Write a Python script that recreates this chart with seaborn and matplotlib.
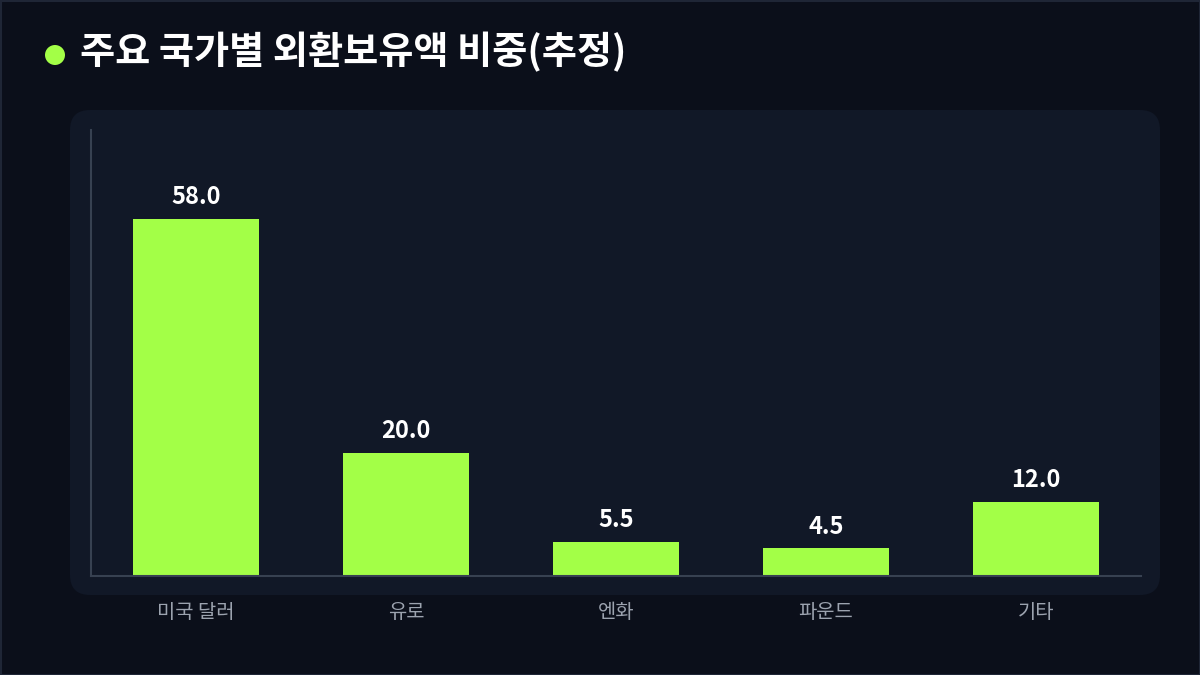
import matplotlib
matplotlib.use("Agg")
import matplotlib.pyplot as plt
import seaborn as sns
from matplotlib.patches import FancyBboxPatch, Circle
from matplotlib.transforms import IdentityTransform

# 데이터
categories = ["미국 달러", "유로", "엔화", "파운드", "기타"]
shares = [58.0, 20.0, 5.5, 4.5, 12.0]
title = "주요 국가별 외환보유액 비중(추정)"

BG = "#0b0f1a"
PANEL = "#111827"
BAR = "#a3ff47"
SPINE = "#374151"
TICK = "#9ca3af"

sns.set_theme(style="dark")
plt.rcParams['font.family'] = ['Noto Sans CJK KR', 'DejaVu Sans']

W, H = 1200, 675
fig = plt.figure(figsize=(12, 6.75), dpi=100, facecolor=BG)

# 바깥 테두리
fig.patches.append(plt.Rectangle((0.5, 0.5), W - 1, H - 1, transform=IdentityTransform(),
                                 fill=False, edgecolor="#1f2636", linewidth=1.5, zorder=-2))
# 차트 패널
fig.patches.append(FancyBboxPatch((70 + 20, H - 595 + 20), 1090 - 40, 485 - 40,
                                  boxstyle="round,pad=20,rounding_size=20",
                                  transform=IdentityTransform(),
                                  facecolor=PANEL, edgecolor="none", zorder=-1))

# 제목
fig.patches.append(Circle((55, H - 55), 10, transform=IdentityTransform(),
                          facecolor=BAR, edgecolor="none"))
fig.text(80 / W, 1 - 52 / H, title, color="white", fontsize=27.5, fontweight="bold",
         va="center", ha="left")

ax = fig.add_axes([91 / W, (H - 576) / H, (1141 - 91) / W, (576 - 130) / H])
ax.set_facecolor("none")
ax.set_zorder(1)

sns.barplot(x=categories, y=shares, color=BAR, width=0.6, saturation=1,
            linewidth=0, edgecolor="none", ax=ax)
ax.bar_label(ax.containers[0], fmt="%.1f", padding=7, color="white",
             fontsize=17, fontweight="bold")

ax.set_xlim(-0.5, len(categories) - 0.5)
ax.set_ylim(0, max(shares) * 1.25)
ax.set_yticks([])
ax.set_xlabel("")
ax.set_ylabel("")
ax.grid(False)
ax.tick_params(axis="x", length=0, pad=19, labelsize=14.3, labelcolor=TICK)
for side in ["top", "right"]:
    ax.spines[side].set_visible(False)
for side in ["left", "bottom"]:
    ax.spines[side].set_visible(True)
    ax.spines[side].set_color(SPINE)
    ax.spines[side].set_linewidth(1.5)

fig.savefig("out.png", dpi=100, facecolor=BG)
plt.close(fig)
